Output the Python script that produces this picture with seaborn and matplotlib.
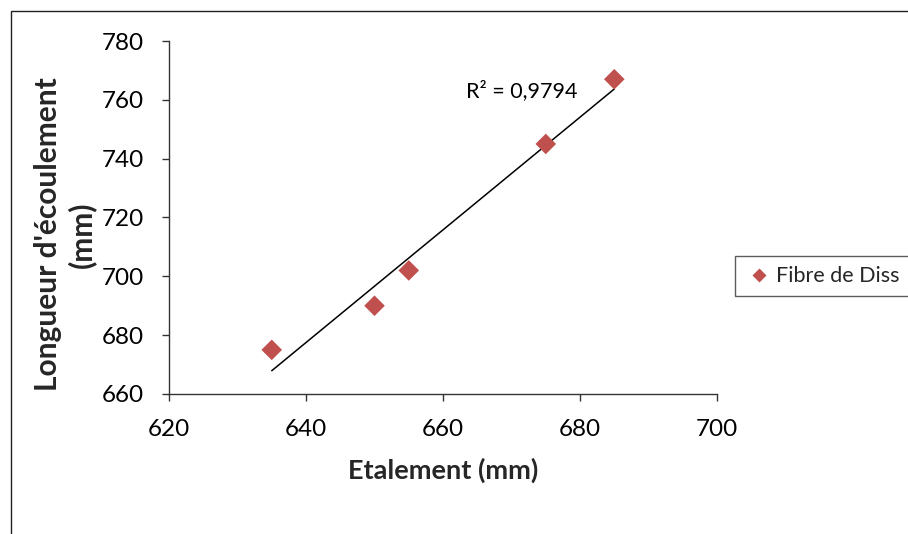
import numpy as np
import pandas as pd
import matplotlib
matplotlib.use("Agg")
import matplotlib.pyplot as plt
import seaborn as sns
from matplotlib.patches import Rectangle

# Spread (mm) vs. flow length (mm) for the Diss fibre mix
etalement = [635, 650, 655, 675, 685]
longueur = [675, 690, 702, 745, 767]
serie = "Fibre de Diss"

sns.set_theme(style="white")
plt.rcParams["font.family"] = ["Lato", "DejaVu Sans"]

df = pd.DataFrame({"Etalement": etalement, "Longueur": longueur, "Série": serie})

fig = plt.figure(figsize=(9.08, 5.34), dpi=100)
ax = fig.add_axes([0.1861, 0.2622, 0.6036, 0.661])

# outer chart border
fig.patches.append(Rectangle((11 / 908, -0.1), 1.2, 1 - 11 / 534 + 0.1,
                             transform=fig.transFigure, fill=False,
                             edgecolor="#222222", linewidth=1.0))

sns.scatterplot(data=df, x="Etalement", y="Longueur", hue="Série",
                palette=["#C0504D"], marker="D", s=110, edgecolor="none",
                ax=ax, zorder=3)

# linear trendline over the data range
slope, intercept = np.polyfit(etalement, longueur, 1)
xs = np.array([min(etalement), max(etalement)])
ax.plot(xs, slope * xs + intercept, color="black", linewidth=1.1, zorder=2)
r2 = np.corrcoef(etalement, longueur)[0, 1] ** 2
ax.text(663.3, 763, f"R² = {r2:.4f}".replace(".", ","), fontsize=15.5,
        color="black", ha="left", va="center")

ax.set_xlim(620, 700)
ax.set_ylim(660, 780)
ax.set_xticks(range(620, 701, 20))
ax.set_yticks(range(660, 781, 20))
ax.tick_params(axis="both", which="major", direction="out", length=5,
               width=1, color="#333333", labelsize=17.5, labelcolor="black",
               bottom=True, left=True, pad=13)

for side in ["top", "right"]:
    ax.spines[side].set_visible(False)
for side in ["left", "bottom"]:
    ax.spines[side].set_color("#333333")
    ax.spines[side].set_linewidth(1.0)

ax.set_xlabel("Etalement (mm)", fontsize=19.5, fontweight="bold")
ax.xaxis.set_label_coords(0.5, -0.215)
ax.set_ylabel("Longueur d'écoulement\n(mm)", fontsize=21.5, fontweight="bold",
              linespacing=1.2)
ax.yaxis.set_label_coords(-0.19, 0.452)
ax.yaxis.label.set_va("center")
ax.xaxis.label.set_va("center")

leg = ax.legend(loc="center left", bbox_to_anchor=(1.033, 0.334), frameon=True,
                fontsize=15.5, handletextpad=0.15, borderpad=0.45,
                handlelength=1.3, borderaxespad=0, markerscale=0.65,
                fancybox=False)
leg.get_frame().set_edgecolor("#333333")
leg.get_frame().set_linewidth(1.0)

fig.savefig("out.png", dpi=100)
